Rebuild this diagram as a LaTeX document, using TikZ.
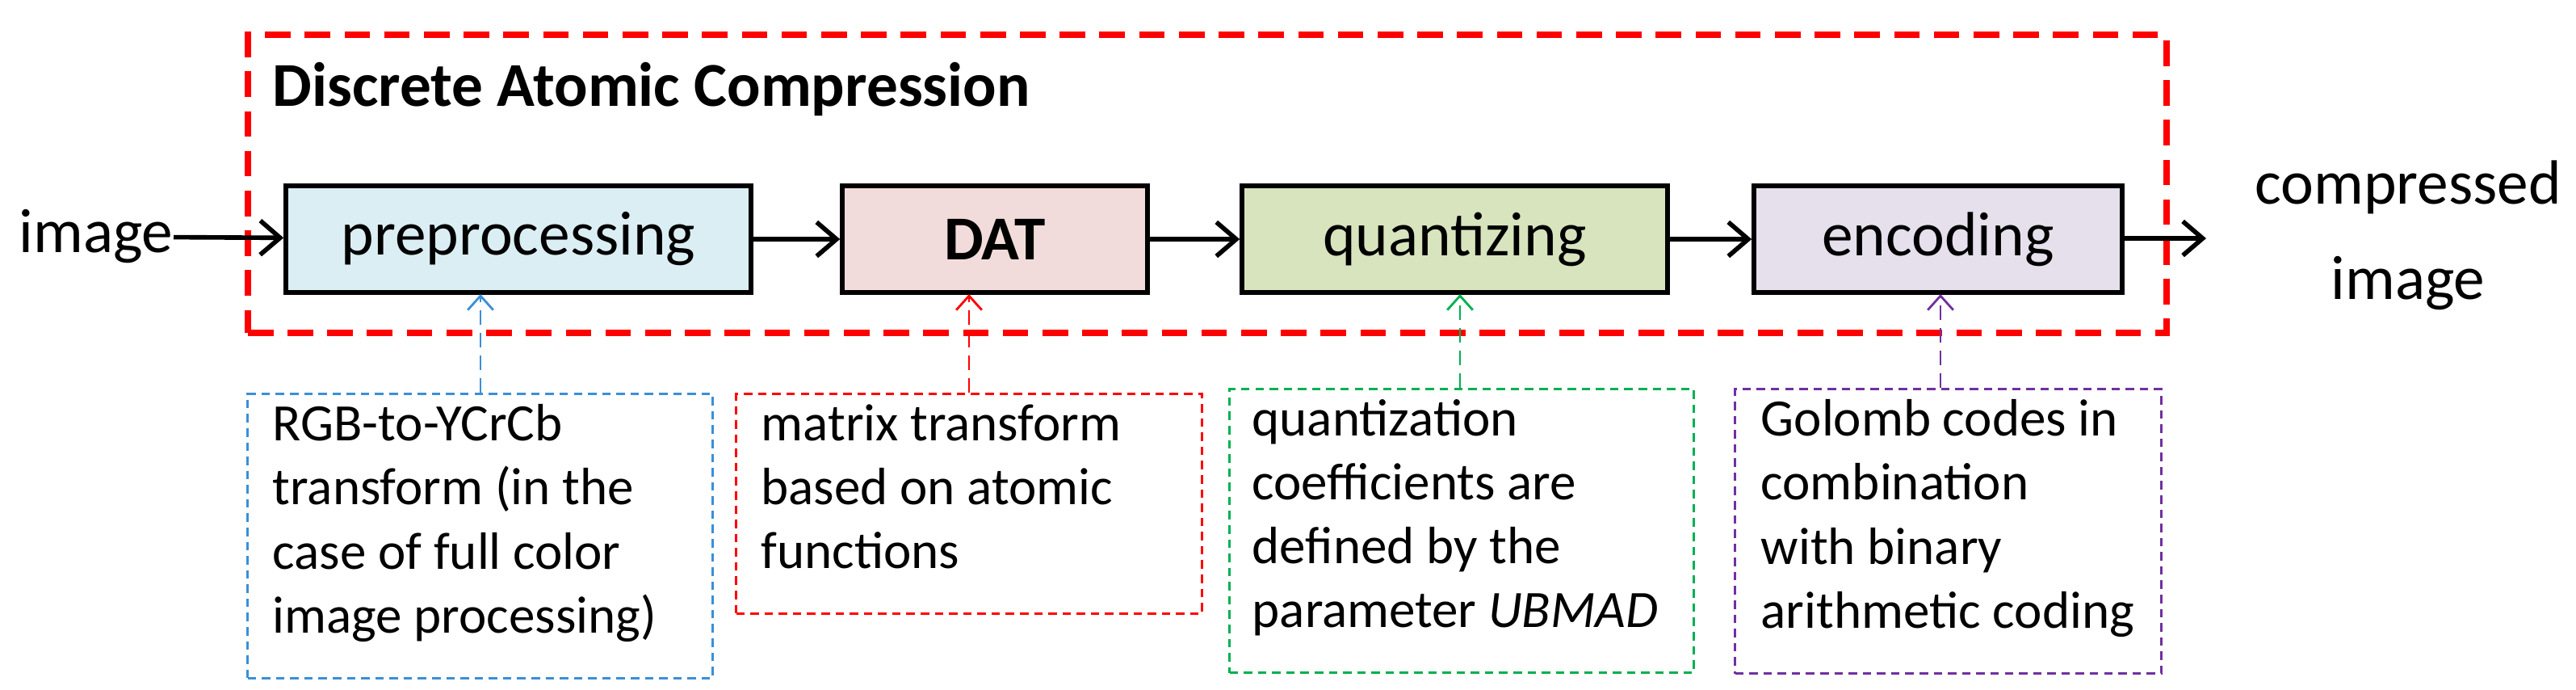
\documentclass[tikz,border=0pt]{standalone}
\usepackage{fontspec}
\setmainfont{Carlito}
\usetikzlibrary{arrows.meta}
\definecolor{cblue}{RGB}{58,143,216}
\definecolor{cgreen}{RGB}{0,176,80}
\definecolor{cpurple}{RGB}{112,48,160}
\begin{document}
\begin{tikzpicture}
\useasboundingbox (0,0) rectangle (31.9,-8.53);
\tikzset{
 stage/.style={draw=black,line width=1.6pt,minimum height=1.32cm,inner sep=0pt,font=\fontsize{22}{26}\selectfont},
 flow/.style={line width=1.6pt,-{Straight Barb[length=7pt,width=12pt,line width=1.6pt]}},
 note/.style={line width=0.9pt,dash pattern=on 3pt off 2pt,anchor=north west,inner sep=0pt},
 notetext/.style={anchor=north west,align=left,inner sep=0pt,font=\fontsize{18.5}{22.5}\selectfont},
 link/.style={line width=0.8pt,dash pattern=on 5pt off 3pt,-{Straight Barb[length=5pt,width=9pt]}}
}
% red frame
\node[draw=red,line width=2.2pt,dash pattern=on 9pt off 5pt,minimum width=23.76cm,minimum height=3.69cm,anchor=north west,inner sep=0pt] (frame) at (3.03,-0.39) {};
\node[anchor=base west,inner sep=0pt,font=\bfseries\fontsize{22}{26}\selectfont] (title) at (3.37,-1.31) {Discrete Atomic Compression};
% stages
\node[stage,fill={rgb,255:red,218;green,238;blue,243},minimum width=5.76cm] (pre) at (6.42,-2.96) {preprocessing};
\node[stage,fill={rgb,255:red,242;green,220;blue,219},minimum width=3.78cm,font=\bfseries\fontsize{22}{26}\selectfont] (dat) at (12.32,-2.96) {DAT};
\node[stage,fill={rgb,255:red,215;green,228;blue,189},minimum width=5.27cm] (qua) at (18.015,-2.96) {quantizing};
\node[stage,fill={rgb,255:red,229;green,224;blue,236},minimum width=4.56cm] (enc) at (24.0,-2.96) {encoding};
\node[anchor=east,inner sep=0pt,font=\fontsize{22}{26}\selectfont] (img) at (2.15,-2.93) {image};
\node[anchor=north,align=center,inner sep=0pt,font=\fontsize{22}{33.5}\selectfont] (out) at (29.82,-1.98) {compressed\\image};
\coordinate (outarr) at (27.32,-2.95);
\draw[flow] (img) -- (pre);
\draw[flow] (pre) -- (dat);
\draw[flow] (dat) -- (qua);
\draw[flow] (qua) -- (enc);
\draw[flow] (enc.east |- outarr) -- (outarr);
% notes
\node[note,draw=cblue,minimum width=5.76cm,minimum height=3.52cm] (nb) at (3.05,-4.86) {};
\node[note,draw=red,minimum width=5.77cm,minimum height=2.72cm] (nr) at (9.10,-4.86) {};
\node[note,draw=cgreen,minimum width=5.75cm,minimum height=3.51cm] (ng) at (15.21,-4.80) {};
\node[note,draw=cpurple,minimum width=5.28cm,minimum height=3.52cm] (np) at (21.47,-4.80) {};
\node[notetext] (tb) at (3.37,-5.0) {RGB-to-YCrCb\\transform (in the\\case of full color\\image processing)};
\node[notetext] (tr) at (9.42,-5.0) {matrix transform\\based on atomic\\functions};
\node[notetext] (tg) at (15.50,-4.94) {quantization\\coefficients are\\defined by the\\parameter \textit{UBMAD}};
\node[notetext] (tp) at (21.80,-4.94) {Golomb codes in\\combination\\with binary\\arithmetic coding};
% links
\coordinate (cb) at (5.95,-3.64);
\coordinate (cr) at (12.00,-3.64);
\coordinate (cg) at (18.08,-3.64);
\coordinate (cp) at (24.03,-3.64);
\draw[link,cblue] (nb.north -| cb) -- (cb);
\draw[link,red] (nr.north -| cr) -- (cr);
\draw[link,cgreen] (ng.north -| cg) -- (cg);
\draw[link,cpurple] (np.north -| cp) -- (cp);
\end{tikzpicture}
\end{document}
